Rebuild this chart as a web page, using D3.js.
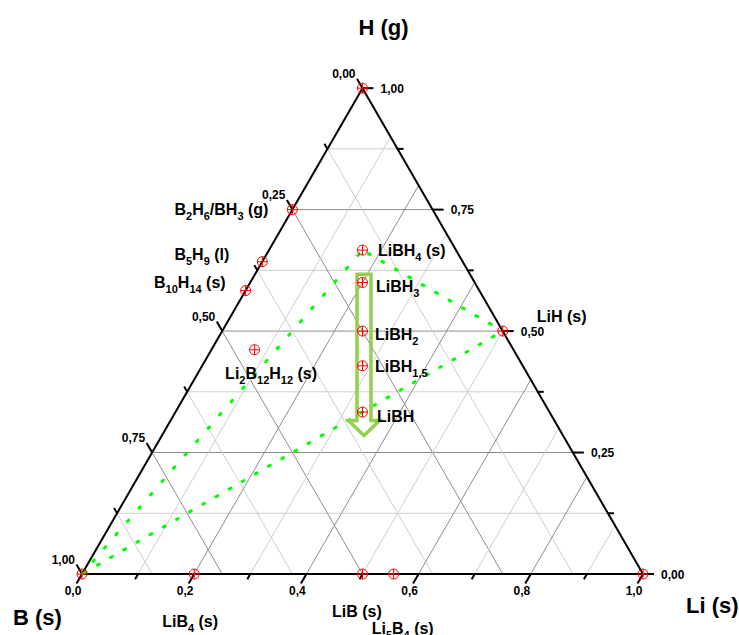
<!DOCTYPE html>
<html><head><meta charset="utf-8">
<script src="https://cdn.jsdelivr.net/npm/d3@7/dist/d3.min.js"></script>
<style>
body{margin:0;background:#fff}
svg{display:block}
text{font-family:Arial,"Liberation Sans",Helvetica,sans-serif;font-weight:bold;fill:#000}
</style>
</head><body>
<svg id="chart" width="739" height="635"></svg>
<script>
// ---------------- DATA ----------------
const axisTitles = ["B (s)", "Li (s)", "H (g)"];
const liTickLabels = ["0,0", "0,2", "0,4", "0,6", "0,8", "1,0"];      // Li fraction 0..1 step 0.2
const bTickLabels  = ["0,00", "0,25", "0,50", "0,75", "1,00"];        // B fraction 0..1 step 0.25
const hTickLabels  = ["0,00", "0,25", "0,50", "0,75", "1,00"];        // H fraction 0..1 step 0.25

// species: atom counts Li, B, H
const speciesNames = ["H", "B_2H_6/BH_3 (g)", "B_5H_9 (l)", "B_10H_14 (s)", "LiBH_4 (s)", "LiBH_3",
  "LiBH_2", "LiBH_1,5", "LiBH", "LiH (s)", "Li_2B_12H_12 (s)", "B", "LiB_4 (s)", "LiB (s)", "Li_5B_4 (s)", "Li"];
const speciesLi = [0, 0, 0, 0,  1, 1, 1, 1,   1, 1, 2,  0, 1, 1, 5, 1];
const speciesB  = [0, 1, 5, 10, 1, 1, 1, 1,   1, 0, 12, 1, 4, 1, 4, 0];
const speciesH  = [1, 3, 9, 14, 4, 3, 2, 1.5, 1, 1, 12, 0, 0, 0, 0, 0];

// dotted boundary B -> LiBH4 -> LiH -> B
const boundarySegments = [["B", "LiBH_4 (s)"], ["LiBH_4 (s)", "LiH (s)"], ["LiH (s)", "B"]];
// arrow along LiBH_x (Li = B), H fraction from top to tip
const arrowHTop = 0.617, arrowHNeck = 0.316, arrowHTip = 0.285;

// ---------------- LAYOUT ----------------
const labelLayout = {
  "B_2H_6/BH_3 (g)": [-24, 5, "end"],
  "B_5H_9 (l)": [-33, -1.5, "end"],
  "B_10H_14 (s)": [-20, -2.5, "end"],
  "LiBH_4 (s)": [15.5, 6, "start"],
  "LiBH_3": [13.5, 9.5, "start"],
  "LiBH_2": [12.5, 9, "start"],
  "LiBH_1,5": [12.5, 6, "start"],
  "LiBH": [14.5, 10, "start"],
  "LiH (s)": [34, -9, "start"],
  "Li_2B_12H_12 (s)": [-29.5, 29, "start"],
  "LiB_4 (s)": [-32, 53, "start"],
  "LiB (s)": [-30.5, 43, "start"],
  "Li_5B_4 (s)": [-22, 60, "start"]
};

const svg = d3.select("#chart");
const S3 = Math.sqrt(3) / 2;
const side = 561;
const x = d3.scaleLinear().domain([0, 1]).range([82, 82 + side]);
const y = d3.scaleLinear().domain([0, S3]).range([574, 574 - side * S3]);

function proj(li, b, h) {
  const s = li + b + h; li /= s; b /= s; h /= s;
  return [x(li + h / 2), y(h * S3)];
}
const line = d3.line();

// ---------------- GRID ----------------
const gGrid = svg.append("g");
const eighths = d3.range(1, 8).map(i => i / 8);
const tenths = d3.range(1, 10).map(i => i / 10);
const MAJ = "#8c8c8c", MIN = "#cdcdcd";
eighths.forEach(h => {
  gGrid.append("path").attr("d", line([proj(0, 1 - h, h), proj(1 - h, 0, h)]))
    .attr("stroke", (h * 4) % 1 === 0 ? MAJ : MIN).attr("fill", "none").attr("stroke-width", 1);
});
eighths.forEach(b => {
  gGrid.append("path").attr("d", line([proj(1 - b, b, 0), proj(0, b, 1 - b)]))
    .attr("stroke", (b * 4) % 1 === 0 ? MAJ : MIN).attr("fill", "none").attr("stroke-width", 1);
});
tenths.forEach((li, i) => {
  gGrid.append("path").attr("d", line([proj(li, 1 - li, 0), proj(li, 0, 1 - li)]))
    .attr("stroke", (i + 1) % 2 === 0 ? MAJ : MIN).attr("fill", "none").attr("stroke-width", 1);
});

// ---------------- AXES ----------------
const gAx = svg.append("g");
const PB = proj(0, 1, 0), PL = proj(1, 0, 0), PH = proj(0, 0, 1);
gAx.append("path").attr("d", line([PB, PL, PH]) + "Z").attr("fill", "none")
  .attr("stroke", "#000").attr("stroke-width", 2).attr("stroke-linejoin", "miter");

function tick(p, dir, len) {
  gAx.append("line").attr("x1", p[0]).attr("y1", p[1])
    .attr("x2", p[0] + dir[0] * len).attr("y2", p[1] + dir[1] * len)
    .attr("stroke", "#000").attr("stroke-width", 2);
}
// Li axis (bottom)
d3.range(0, 11).forEach(i => {
  const li = i / 10, p = proj(li, 1 - li, 0);
  tick(p, [-0.5, S3], i % 2 === 0 ? 11 : 6);
});
liTickLabels.forEach((t, i) => {
  const li = i * 0.2, p = proj(li, 1 - li, 0);
  gAx.append("text").attr("x", p[0] - 9).attr("y", p[1] + 21).attr("text-anchor", "middle")
    .attr("font-size", 12).text(t);
});
// B axis (left)
d3.range(0, 9).forEach(i => {
  const b = i / 8, p = proj(0, b, 1 - b);
  tick(p, [-0.5, -S3], i % 2 === 0 ? 11 : 6);
});
bTickLabels.forEach((t, i) => {
  const b = i * 0.25, p = proj(0, b, 1 - b);
  gAx.append("text").attr("x", p[0] - 7).attr("y", p[1] - 10.5).attr("text-anchor", "end")
    .attr("font-size", 12).text(t);
});
// H axis (right)
d3.range(0, 9).forEach(i => {
  const h = i / 8, p = proj(1 - h, 0, h);
  tick(p, [1, 0], i % 2 === 0 ? 11 : 6);
});
hTickLabels.forEach((t, i) => {
  const h = i * 0.25, p = proj(1 - h, 0, h);
  gAx.append("text").attr("x", p[0] + 18).attr("y", p[1] + 4.5).attr("text-anchor", "start")
    .attr("font-size", 12).text(t);
});

// axis titles
const titlePos = { "B (s)": [PB[0] - 69, PB[1] + 51, "start"], "Li (s)": [PL[0] + 43, PL[1] + 39, "start"], "H (g)": [PH[0] + 21, PH[1] - 53, "middle"] };
axisTitles.forEach(t => {
  const q = titlePos[t];
  svg.append("text").attr("x", q[0]).attr("y", q[1]).attr("text-anchor", q[2]).attr("font-size", 22).text(t);
});

// ---------------- DOTTED BOUNDARY ----------------
const idx = n => speciesNames.indexOf(n);
const pt = n => { const i = idx(n); return proj(speciesLi[i], speciesB[i], speciesH[i]); };
const dashes = ["2 15.6", "2 13.5", "2 13.2"];
const offsets = [1, -7, -10];
boundarySegments.forEach((seg, k) => {
  svg.append("path").attr("d", line(seg.map(pt))).attr("fill", "none")
    .attr("stroke", "#00ff00").attr("stroke-width", 3).attr("stroke-linecap", "round")
    .attr("stroke-dasharray", dashes[k]).attr("stroke-dashoffset", offsets[k]);
});

// ---------------- ARROW ----------------
const aTop = proj(1, 1, 2 * arrowHTop / (1 - arrowHTop)),
      aNeck = proj(1, 1, 2 * arrowHNeck / (1 - arrowHNeck)),
      aTip = proj(1, 1, 2 * arrowHTip / (1 - arrowHTip));
const cx = aTop[0] + 1.5, sw = 7, hw = 15.5;
svg.append("path").attr("d", line([
  [cx - sw, aTop[1]], [cx + sw, aTop[1]], [cx + sw, aNeck[1]], [cx + hw, aNeck[1]],
  [cx, aTip[1]], [cx - hw, aNeck[1]], [cx - sw, aNeck[1]]]) + "Z")
  .attr("fill", "none").attr("stroke", "#92d050").attr("stroke-width", 3.5).attr("stroke-linejoin", "miter");

// ---------------- MARKERS ----------------
const gM = svg.append("g");
speciesNames.forEach((n, i) => {
  const p = proj(speciesLi[i], speciesB[i], speciesH[i]);
  const g = gM.append("g").attr("transform", `translate(${p[0]},${p[1]})`);
  g.append("circle").attr("r", 5).attr("fill", "none").attr("stroke", "#ff0000").attr("stroke-width", 1);
  g.append("path").attr("d", "M-5,0H5M0,-5V5").attr("stroke", "#ff0000").attr("stroke-width", 1);
});

// ---------------- LABELS ----------------
function richText(sel, str) {
  const parts = str.split(/_([0-9,]+)/);
  let sub = false;
  parts.forEach((part, k) => {
    const isSub = k % 2 === 1;
    if (part === "") return;
    const t = sel.append("tspan").text(part);
    if (isSub) { t.attr("font-size", 11).attr("dy", 5); sub = true; }
    else if (sub) { t.attr("dy", -5); sub = false; }
  });
}
speciesNames.forEach((n, i) => {
  const L = labelLayout[n];
  if (!L) return;
  const p = proj(speciesLi[i], speciesB[i], speciesH[i]);
  const t = svg.append("text").attr("x", p[0] + L[0]).attr("y", p[1] + L[1])
    .attr("text-anchor", L[2]).attr("font-size", 16);
  richText(t, n);
});
</script>
</body></html>
